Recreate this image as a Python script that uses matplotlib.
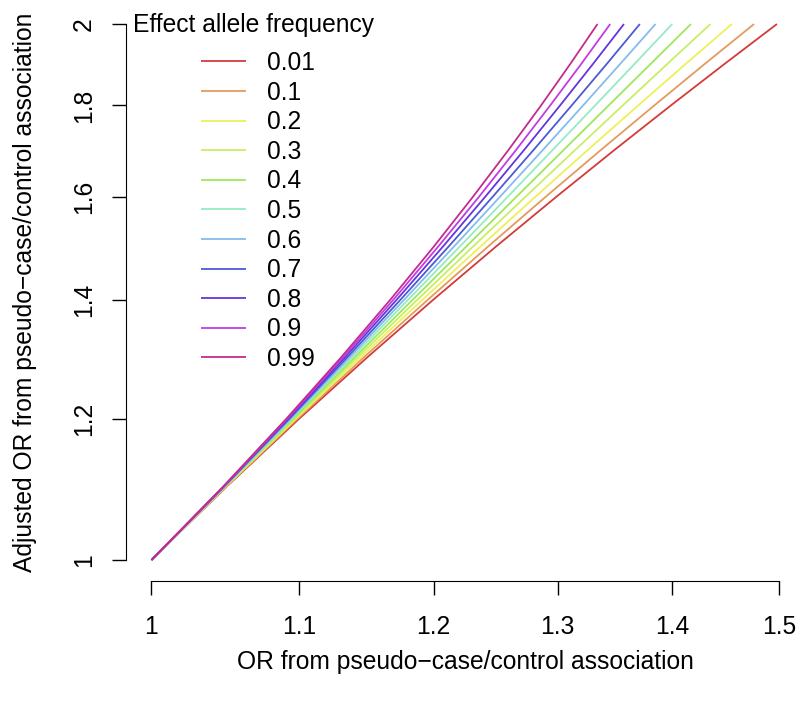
import matplotlib
matplotlib.use("Agg")
import matplotlib.pyplot as plt

# allele frequencies shown in the legend
freqs = ["0.01", "0.1", "0.2", "0.3", "0.4", "0.5", "0.6", "0.7", "0.8", "0.9", "0.99"]
colors = ["#d43a3a", "#e49a5c", "#eef05a", "#c8ee66", "#9ce85a", "#96eac4",
          "#84bcec", "#4c5ad4", "#6436dc", "#c43ae4", "#c42c8c"]

# adjusted OR (y) at which the pseudo-case/control OR (x) was read for each curve
adj_or = [1.0, 1.1, 1.2, 1.3, 1.4, 1.5, 1.6, 1.7, 1.8, 1.9, 2.0]

or_001 = [1.0, 1.0500, 1.0999, 1.1498, 1.1996, 1.2494, 1.2992, 1.3490, 1.3987, 1.4484, 1.498]
or_010 = [1.0, 1.0497, 1.0987, 1.1473, 1.1954, 1.2430, 1.2903, 1.3372, 1.3838, 1.4300, 1.476]
or_020 = [1.0, 1.0494, 1.0976, 1.1449, 1.1913, 1.2369, 1.2817, 1.3259, 1.3695, 1.4125, 1.455]
or_030 = [1.0, 1.0491, 1.0966, 1.1426, 1.1874, 1.2310, 1.2735, 1.3151, 1.3559, 1.3958, 1.435]
or_040 = [1.0, 1.0489, 1.0956, 1.1405, 1.1838, 1.2256, 1.2661, 1.3054, 1.3436, 1.3808, 1.417]
or_050 = [1.0, 1.0486, 1.0947, 1.1385, 1.1803, 1.2205, 1.2590, 1.2961, 1.3319, 1.3665, 1.400]
or_060 = [1.0, 1.0484, 1.0938, 1.1367, 1.1773, 1.2159, 1.2527, 1.2879, 1.3216, 1.3539, 1.385]
or_070 = [1.0, 1.0482, 1.0930, 1.1350, 1.1745, 1.2117, 1.2468, 1.2802, 1.3119, 1.3422, 1.371]
or_080 = [1.0, 1.0480, 1.0922, 1.1333, 1.1716, 1.2073, 1.2408, 1.2724, 1.3021, 1.3303, 1.357]
or_090 = [1.0, 1.0478, 1.0915, 1.1319, 1.1691, 1.2036, 1.2358, 1.2658, 1.2938, 1.3202, 1.345]
or_099 = [1.0, 1.0476, 1.0909, 1.1305, 1.1668, 1.2002, 1.2310, 1.2596, 1.2862, 1.3109, 1.334]

curves = [or_001, or_010, or_020, or_030, or_040, or_050,
          or_060, or_070, or_080, or_090, or_099]

x_ticks = [1, 1.1, 1.2, 1.3, 1.4, 1.5]
x_tick_labels = ["1", "1.1", "1.2", "1.3", "1.4", "1.5"]
y_ticks = [1, 1.2, 1.4, 1.6, 1.8, 2]
y_tick_labels = ["1", "1.2", "1.4", "1.6", "1.8", "2"]

font_size = 17.7
plt.rcParams['font.family'] = ['Liberation Sans', 'DejaVu Sans']

W, H = 799, 703
fig = plt.figure(figsize=(W / 100, H / 100), dpi=100)
# R-style 4% padding around the log ranges
left_px, right_px, top_px, bottom_px = 126.4, 804.1, 2.6, 581.4
ax = fig.add_axes([left_px / W, 1 - bottom_px / H,
                   (right_px - left_px) / W, (bottom_px - top_px) / H])

for xs, c, f in zip(curves, colors, freqs):
    ax.plot(xs, adj_or, color=c, lw=1.3, label=f, solid_capstyle='butt')

ax.set_xscale('log')
ax.set_yscale('log')
ax.set_xlim(0.98393, 1.52450)
ax.set_ylim(0.97268, 2.05618)

ax.minorticks_off()
ax.set_xticks(x_ticks)
ax.set_xticklabels(x_tick_labels)
ax.set_yticks(y_ticks)
ax.set_yticklabels(y_tick_labels, rotation=90, va='center')

for s in ['top', 'right']:
    ax.spines[s].set_visible(False)
ax.spines['left'].set_bounds(1, 2)
ax.spines['bottom'].set_bounds(1, 1.5)
ax.tick_params(direction='out', length=10, width=1, labelsize=font_size, pad=14)
ax.tick_params(axis='y', pad=12)

ax.set_xlabel("OR from pseudo\u2212case/control association", fontsize=font_size, labelpad=8)
ax.set_ylabel("Adjusted OR from pseudo\u2212case/control association", fontsize=font_size, labelpad=25)

# legend title drawn on its own so the entries can sit lower, as in R
fig.text(133 / W, 1 - 32 / H, "Effect allele frequency", fontsize=font_size,
         ha='left', va='baseline')
leg = ax.legend(loc='upper left', bbox_to_anchor=(201 / W, 1 - 51 / H),
                bbox_transform=fig.transFigure, frameon=False,
                fontsize=font_size, handlelength=1.83, handletextpad=0.85,
                labelspacing=0.228, borderpad=0, borderaxespad=0)

fig.savefig("out.png", dpi=100)
